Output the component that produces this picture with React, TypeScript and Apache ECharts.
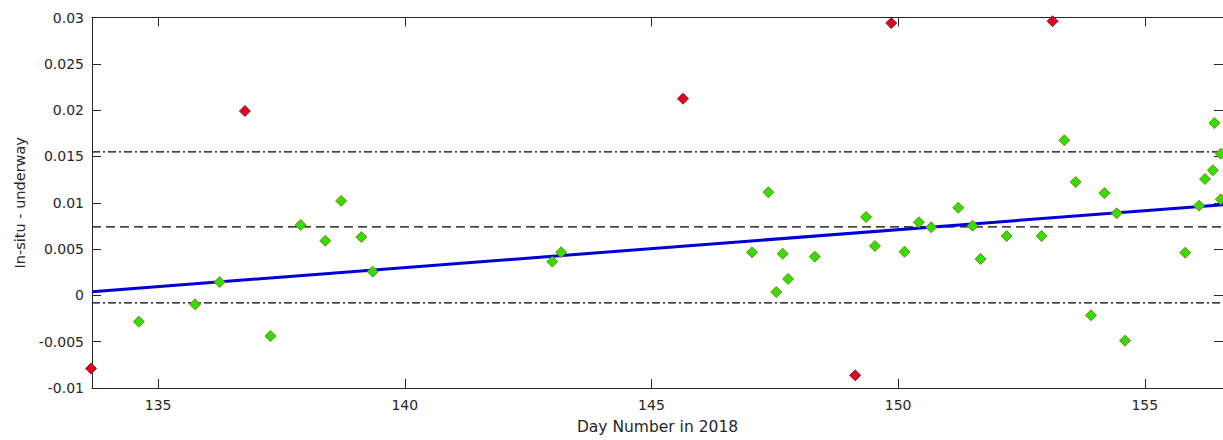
import React, { useEffect, useRef } from "react";
import * as echarts from "echarts";

// Day number (x) and In-situ minus underway difference (y)
const greenDays = [
  134.61, 135.75, 136.25, 137.28, 137.89, 138.39, 138.71, 139.12, 139.35,
  142.99, 143.17, 147.04, 147.37, 147.53, 147.66, 147.77, 148.31,
  149.35, 149.53, 150.13, 150.42, 150.67, 151.22, 151.51, 151.67, 152.2,
  152.91, 153.37, 153.6, 153.91, 154.18, 154.43, 154.6, 155.82, 156.1,
  156.22, 156.38, 156.41, 156.54, 156.54,
];
const greenValues = [
  -0.00284, -0.00097, 0.00144, -0.00439, 0.0076, 0.0059, 0.0102, 0.0063, 0.00256,
  0.00364, 0.00465, 0.00465, 0.01113, 0.00036, 0.0045, 0.00177, 0.00418,
  0.00846, 0.00533, 0.00471, 0.00789, 0.00735, 0.00947, 0.00752, 0.00393, 0.00641,
  0.00641, 0.01674, 0.01224, -0.00215, 0.01105, 0.00886, -0.00489, 0.00461, 0.00968,
  0.01256, 0.0135, 0.01861, 0.0153, 0.01037,
];
const redDays = [133.64, 136.76, 145.64, 149.13, 149.86, 153.13];
const redValues = [-0.0079, 0.0199, 0.02123, -0.00863, 0.0294, 0.0296];

const fitDays = [133.66, 156.6];
const fitValues = [0.0004, 0.0098];

const meanValue = 0.0074;
const upperValue = 0.0155;
const lowerValue = -0.0008;

const xMin = 133.66;
const xMax = 156.585;
const xTicks = [135, 140, 145, 150, 155];
const yMin = -0.01;
const yMax = 0.03;
const yStep = 0.005;

const xTitle = "Day Number in 2018";
const yTitle = "In-situ - underway";

export default function App() {
  const ref = useRef<HTMLDivElement>(null);
  useEffect(() => {
    if (!ref.current) return;
    const chart = echarts.init(ref.current, undefined, { renderer: "svg" });
    const axisColor = "#262626";
    const font = "DejaVu Sans";
    const pair = (xs: number[], ys: number[]) => xs.map((x, i) => [x, ys[i]]);
    const hline = (v: number) => [[xMin, v], [xMax, v]];
    chart.setOption({
      animation: false,
      backgroundColor: "#ffffff",
      grid: { left: 92, top: 17.5, right: -1, bottom: 52, containLabel: false },
      xAxis: [
        {
          type: "value",
          min: xMin,
          max: xMax,
          name: xTitle,
          nameLocation: "middle",
          nameGap: 31,
          nameTextStyle: { color: axisColor, fontSize: 15.5, fontFamily: font },
          axisLine: { show: true, onZero: false, lineStyle: { color: axisColor, width: 1 } },
          axisTick: { show: true, inside: true, length: 9, customValues: xTicks, lineStyle: { color: axisColor } },
          axisLabel: { customValues: xTicks, color: axisColor, fontSize: 14, fontFamily: font, margin: 10 },
          splitLine: { show: false },
        },
        {
          type: "value",
          position: "top",
          min: xMin,
          max: xMax,
          axisLine: { show: true, onZero: false, lineStyle: { color: axisColor, width: 1 } },
          axisTick: { show: true, inside: true, length: 9, customValues: xTicks, lineStyle: { color: axisColor } },
          axisLabel: { show: false },
          splitLine: { show: false },
        },
      ],
      yAxis: [
        {
          type: "value",
          min: yMin,
          max: yMax,
          interval: yStep,
          name: yTitle,
          nameLocation: "middle",
          nameGap: 64,
          nameRotate: 90,
          nameTextStyle: { color: axisColor, fontSize: 14.5, fontFamily: font },
          axisLine: { show: true, onZero: false, lineStyle: { color: axisColor, width: 1 } },
          axisTick: { show: true, inside: true, length: 9, lineStyle: { color: axisColor } },
          axisLabel: { color: axisColor, fontSize: 14, fontFamily: font, margin: 8 },
          splitLine: { show: false },
        },
        {
          type: "value",
          position: "right",
          min: yMin,
          max: yMax,
          interval: yStep,
          axisLine: { show: true, onZero: false, lineStyle: { color: axisColor, width: 1 } },
          axisTick: { show: true, inside: true, length: 9, lineStyle: { color: axisColor } },
          axisLabel: { show: false },
          splitLine: { show: false },
        },
      ],
      series: [
        {
          type: "line",
          data: hline(upperValue),
          symbol: "none",
          lineStyle: { color: "#000000", width: 1.2, type: [8, 3, 2, 3] },
          silent: true,
        },
        {
          type: "line",
          data: hline(meanValue),
          symbol: "none",
          lineStyle: { color: "#000000", width: 1.2, type: [9, 5] },
          silent: true,
        },
        {
          type: "line",
          data: hline(lowerValue),
          symbol: "none",
          lineStyle: { color: "#000000", width: 1.2, type: [8, 3, 2, 3] },
          silent: true,
        },
        {
          type: "line",
          data: pair(fitDays, fitValues),
          symbol: "none",
          lineStyle: { color: "#0000d8", width: 3 },
          silent: true,
          z: 3,
        },
        {
          type: "scatter",
          data: pair(greenDays, greenValues),
          symbol: "diamond",
          symbolSize: 11,
          clip: false,
          itemStyle: { color: "#2fe000", borderColor: "#8c7a1e", borderWidth: 1, opacity: 1 },
          z: 4,
        },
        {
          type: "scatter",
          data: pair(redDays, redValues),
          symbol: "diamond",
          symbolSize: 11,
          clip: false,
          itemStyle: { color: "#e8001c", borderColor: "#6a2a4a", borderWidth: 1, opacity: 1 },
          z: 4,
        },
      ],
    });
    return () => chart.dispose();
  }, []);
  return (
    <div
      ref={ref}
      style={{ position: "fixed", left: 0, top: 0, width: 1223, height: 440, background: "#fff" }}
    />
  );
}
